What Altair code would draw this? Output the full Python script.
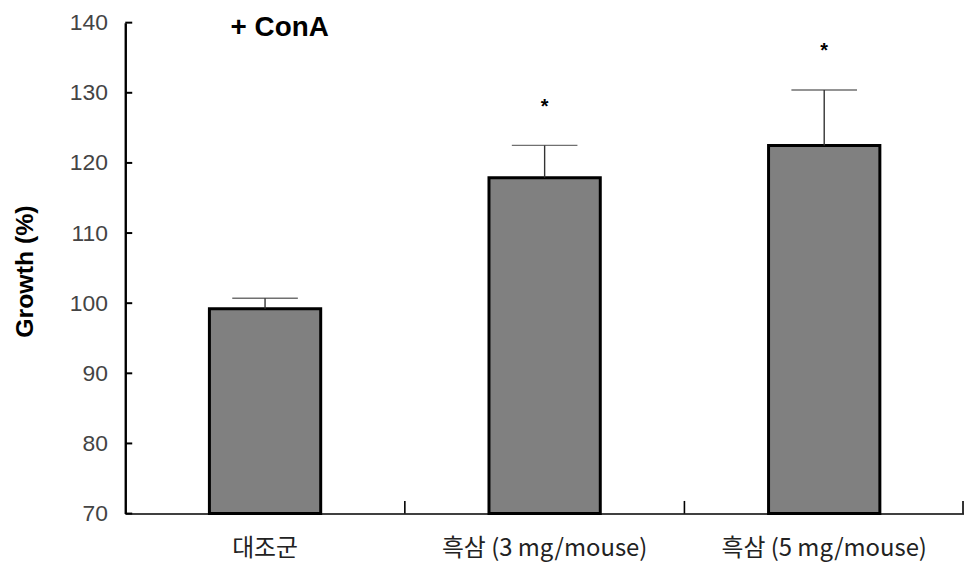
import altair as alt
import pandas as pd

categories = ["대조군", "흑삼 (3 mg/mouse)", "흑삼 (5 mg/mouse)"]
means = [99.2, 117.9, 122.5]
errors = [1.5, 4.6, 7.9]
marks = ["", "*", "*"]
y_ticks = [70, 80, 90, 100, 110, 120, 130, 140]
annotation = "+ ConA"
y_title = "Growth (%)"

df = pd.DataFrame({
    "cat": categories,
    "mean": means,
    "top": [m + e for m, e in zip(means, errors)],
    "sig": marks,
    "base": [70] * len(categories),
})
ticks_df = pd.DataFrame({"v": y_ticks})

W, H = 844, 494
TOP = 13
band = W / len(categories)

xs = alt.X("cat:N", sort=categories, title=None,
           scale=alt.Scale(paddingInner=0, paddingOuter=0),
           axis=alt.Axis(labelAngle=0, ticks=False, domain=True, domainColor="black",
                         domainWidth=1.6, labelFont="Noto Sans CJK KR", labelFontSize=24,
                         labelColor="#222", labelPadding=23, labelLimit=400))
ys = alt.Y("mean:Q", title=y_title,
           scale=alt.Scale(domain=[70, 140], nice=False, zero=False),
           axis=alt.Axis(values=y_ticks, ticks=False, domainColor="black", domainWidth=2.4,
                         labelFont="Liberation Sans", labelFontSize=23, labelColor="#444",
                         labelPadding=18, grid=False,
                         titleFont="Liberation Sans", titleFontSize=25, titleFontWeight="bold",
                         titleColor="black", titleX=-101, titleY=271 - 8 - TOP, titleAngle=-90,
                         titleAlign="center", titleBaseline="middle"))

base = alt.Chart(df)

bars = base.mark_bar(size=112, color="#808080", stroke="black", strokeWidth=3).encode(
    x=xs, y=ys, y2="base:Q")

err = base.mark_rule(color="#333", strokeWidth=1.4).encode(
    x=alt.X("cat:N", sort=categories), y="mean:Q", y2="top:Q")

caps = base.mark_tick(color="#333", thickness=1.4, size=66, orient="horizontal").encode(
    x=alt.X("cat:N", sort=categories), y="top:Q")

stars = base.mark_text(fontSize=20, fontWeight="bold", dy=-39, baseline="middle",
                       font="Liberation Sans", color="black").encode(
    x=alt.X("cat:N", sort=categories), y="top:Q", text="sig:N")

yt = alt.Chart(ticks_df).mark_rule(color="black", strokeWidth=2).encode(
    y=alt.Y("v:Q"), x=alt.value(0), x2=alt.value(7))

xt_left = base.transform_filter(alt.datum.cat != categories[0]).mark_rule(
    color="black", strokeWidth=1.6, xOffset=-band / 2).encode(
    x=alt.X("cat:N", sort=categories), y=alt.datum(70), y2=alt.datum(71.8))
xt_right = base.transform_filter(alt.datum.cat == categories[-1]).mark_rule(
    color="black", strokeWidth=1.6, xOffset=band / 2 - 1).encode(
    x=alt.X("cat:N", sort=categories), y=alt.datum(70), y2=alt.datum(71.8))

label = alt.Chart(pd.DataFrame({"t": [annotation]})).mark_text(
    fontSize=28, fontWeight="bold", font="Liberation Sans", align="left",
    baseline="alphabetic", color="black").encode(
    x=alt.value(106), y=alt.value(34 - 8 - TOP), text="t:N")

chart = alt.layer(bars, err, caps, stars, yt, xt_left, xt_right, label).properties(
    width=W, height=H,
    autosize=alt.AutoSizeParams(type="none"),
    padding={"left": 118, "top": TOP, "right": 0, "bottom": 50},
).configure_view(stroke=None)

chart.save("out.html", embed_options={"renderer": "svg", "actions": False})
